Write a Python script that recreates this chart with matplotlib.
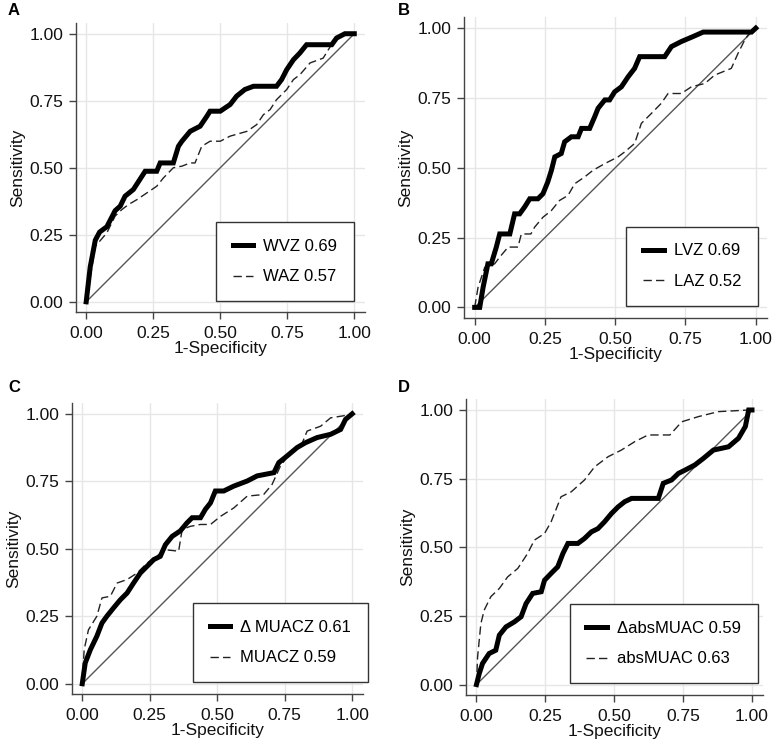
import matplotlib
matplotlib.use("Agg")
import matplotlib.pyplot as plt
import numpy as np

plt.rcParams['font.family'] = ['Liberation Sans', 'DejaVu Sans']

# ---- Data ----
# Panel A
wvz_x = [0, 0.015, 0.034, 0.05, 0.077, 0.108, 0.127, 0.145, 0.176, 0.20, 0.22, 0.263, 0.276, 0.325, 0.344, 0.357,
         0.388, 0.425, 0.45, 0.462, 0.5, 0.537, 0.561, 0.592, 0.624, 0.71, 0.729, 0.748, 0.773, 0.797, 0.822,
         0.916, 0.934, 0.965, 1.0]
wvz_y = [0, 0.13, 0.23, 0.26, 0.28, 0.34, 0.357, 0.394, 0.419, 0.456, 0.487, 0.487, 0.518, 0.518, 0.58, 0.599,
         0.636, 0.655, 0.692, 0.711, 0.711, 0.736, 0.767, 0.792, 0.804, 0.804, 0.829, 0.866, 0.903, 0.928, 0.959,
         0.959, 0.984, 1.0, 1.0]
waz_x = [0, 0.034, 0.077, 0.108, 0.133, 0.158, 0.189, 0.226, 0.263, 0.288, 0.325, 0.357, 0.388, 0.406, 0.431,
         0.462, 0.5, 0.537, 0.6, 0.636, 0.661, 0.686, 0.71, 0.748, 0.773, 0.797, 0.835, 0.884, 0.903, 0.922, 0.97, 1.0]
waz_y = [0, 0.207, 0.257, 0.32, 0.344, 0.363, 0.381, 0.406, 0.431, 0.462, 0.5, 0.506, 0.518, 0.518, 0.58,
         0.599, 0.599, 0.618, 0.636, 0.661, 0.698, 0.717, 0.754, 0.792, 0.829, 0.847, 0.891, 0.909, 0.94, 0.97, 1.0, 1.0]

# Panel B
lvz_x = [0, 0.018, 0.03, 0.047, 0.059, 0.077, 0.089, 0.125, 0.142, 0.16, 0.178, 0.196, 0.225, 0.243, 0.26, 0.273,
         0.285, 0.308, 0.32, 0.344, 0.368, 0.38, 0.409, 0.427, 0.439, 0.463, 0.48, 0.498, 0.522, 0.546, 0.569,
         0.587, 0.676, 0.7, 0.735, 0.777, 0.813, 0.985, 1.0]
lvz_y = [0, 0, 0.072, 0.156, 0.156, 0.216, 0.263, 0.263, 0.335, 0.335, 0.36, 0.389, 0.389, 0.407, 0.449, 0.491,
         0.539, 0.551, 0.593, 0.611, 0.611, 0.641, 0.641, 0.683, 0.713, 0.743, 0.743, 0.772, 0.79, 0.826, 0.856,
         0.898, 0.898, 0.934, 0.952, 0.97, 0.986, 0.986, 1.0]
laz_x = [0, 0.012, 0.036, 0.071, 0.089, 0.119, 0.154, 0.166, 0.2, 0.213, 0.243, 0.273, 0.302, 0.332, 0.356, 0.391,
         0.421, 0.463, 0.51, 0.534, 0.569, 0.593, 0.629, 0.664, 0.688, 0.735, 0.771, 0.819, 0.854, 0.913, 0.937,
         0.961, 0.985, 1.0]
laz_y = [0, 0.072, 0.144, 0.156, 0.18, 0.216, 0.216, 0.263, 0.263, 0.287, 0.323, 0.347, 0.383, 0.401, 0.443, 0.467,
         0.491, 0.515, 0.539, 0.557, 0.587, 0.659, 0.695, 0.731, 0.766, 0.766, 0.79, 0.802, 0.832, 0.856, 0.91,
         0.958, 0.994, 1.0]

# Panel C
dmuacz_x = [0, 0.011, 0.03, 0.054, 0.073, 0.091, 0.116, 0.141, 0.166, 0.19, 0.215, 0.24, 0.265, 0.289, 0.308,
            0.333, 0.363, 0.388, 0.407, 0.438, 0.456, 0.475, 0.493, 0.524, 0.561, 0.611, 0.648, 0.71, 0.728, 0.759,
            0.796, 0.827, 0.87, 0.92, 0.957, 0.975, 1.0]
dmuacz_y = [0, 0.077, 0.126, 0.176, 0.225, 0.25, 0.281, 0.311, 0.336, 0.373, 0.41, 0.435, 0.46, 0.472, 0.515,
            0.546, 0.566, 0.596, 0.615, 0.615, 0.646, 0.67, 0.714, 0.714, 0.732, 0.751, 0.77, 0.782, 0.819, 0.844,
            0.875, 0.893, 0.912, 0.924, 0.942, 0.979, 1.0]
muacz_x = [0, 0.007, 0.023, 0.054, 0.073, 0.104, 0.129, 0.166, 0.203, 0.24, 0.277, 0.302, 0.357, 0.37, 0.4, 0.438,
           0.475, 0.512, 0.561, 0.611, 0.672, 0.703, 0.734, 0.771, 0.808, 0.833, 0.883, 0.92, 0.995, 1.0]
muacz_y = [0, 0.126, 0.2, 0.25, 0.318, 0.324, 0.373, 0.386, 0.41, 0.447, 0.472, 0.497, 0.491, 0.571, 0.583, 0.59,
           0.59, 0.62, 0.651, 0.695, 0.701, 0.738, 0.806, 0.856, 0.875, 0.936, 0.954, 0.985, 0.997, 1.0]

# Panel D
dabs_x = [0, 0.01, 0.022, 0.046, 0.07, 0.083, 0.107, 0.137, 0.162, 0.18, 0.204, 0.235, 0.247, 0.271, 0.295, 0.314,
          0.332, 0.368, 0.392, 0.417, 0.441, 0.465, 0.49, 0.514, 0.538, 0.563, 0.66, 0.678, 0.708, 0.733, 0.757,
          0.793, 0.824, 0.86, 0.915, 0.951, 0.976, 0.988, 1.0]
dabs_y = [0, 0.04, 0.077, 0.113, 0.125, 0.18, 0.21, 0.228, 0.247, 0.295, 0.332, 0.338, 0.38, 0.405, 0.429, 0.478,
          0.514, 0.514, 0.532, 0.556, 0.568, 0.593, 0.623, 0.647, 0.666, 0.678, 0.678, 0.733, 0.745, 0.769, 0.781,
          0.8, 0.824, 0.854, 0.866, 0.897, 0.94, 1.0, 1.0]
abs_x = [0, 0.004, 0.016, 0.028, 0.052, 0.083, 0.113, 0.15, 0.186, 0.21, 0.247, 0.271, 0.307, 0.344, 0.392, 0.429,
         0.478, 0.526, 0.575, 0.623, 0.702, 0.745, 0.806, 0.878, 0.99, 1.0]
abs_y = [0, 0.1, 0.222, 0.271, 0.32, 0.35, 0.392, 0.423, 0.478, 0.526, 0.55, 0.593, 0.684, 0.702, 0.745, 0.793,
         0.83, 0.854, 0.885, 0.909, 0.909, 0.957, 0.976, 0.994, 1.0, 1.0]

panel_letters = ['A', 'B', 'C', 'D']
solid_labels = ['WVZ 0.69', 'LVZ 0.69', '\u0394 MUACZ 0.61', '\u0394absMUAC 0.59']
dash_labels = ['WAZ 0.57', 'LAZ 0.52', 'MUACZ 0.59', 'absMUAC 0.63']
ticks = [0.0, 0.25, 0.5, 0.75, 1.0]
tick_labels = ['0.00', '0.25', '0.50', '0.75', '1.00']

solid_series = [(wvz_x, wvz_y), (lvz_x, lvz_y), (dmuacz_x, dmuacz_y), (dabs_x, dabs_y)]
dash_series = [(waz_x, waz_y), (laz_x, laz_y), (muacz_x, muacz_y), (abs_x, abs_y)]

W, H = 775, 750
fig = plt.figure(figsize=(W / 100, H / 100), dpi=100)

# axes boxes in pixels: left, top, right, bottom
boxes = [(76, 23, 365, 312), (464, 17, 767, 318), (72, 403, 363, 694), (466, 399, 763, 695)]
legend_anchor = [(0.962, 0.038), (0.970, 0.040), (1.017, 0.041), (0.983, 0.040)]
letter_pos = [(8, 15), (398, 15), (8, 392), (398, 392)]

spine_col = '#444444'
for i in range(4):
    l, t, r, b = boxes[i]
    ax = fig.add_axes([l / W, 1 - b / H, (r - l) / W, (b - t) / H])
    ax.set_xlim(-0.038, 1.04)
    ax.set_ylim(-0.038, 1.04)
    ax.set_xticks(ticks)
    ax.set_yticks(ticks)
    ax.set_xticklabels(tick_labels)
    ax.set_yticklabels(tick_labels)
    ax.grid(True, color='#e6e6e6', linewidth=1.0)
    ax.set_axisbelow(True)
    for s in ['top', 'right']:
        ax.spines[s].set_visible(False)
    for s in ['left', 'bottom']:
        ax.spines[s].set_color(spine_col)
        ax.spines[s].set_linewidth(1.0)
    ax.tick_params(axis='both', direction='out', length=5, width=1, color=spine_col,
                   labelsize=12.5, pad=4, labelcolor='#111111')
    ax.tick_params(axis='x', pad=5)
    ax.set_xlabel('1-Specificity', fontsize=12.5, labelpad=0, color='#111111')
    ax.set_ylabel('Sensitivity', fontsize=12.5, labelpad=3, color='#111111')

    ax.plot([0, 1], [0, 1], color='#555555', linewidth=1.0, zorder=2)
    sx, sy = solid_series[i]
    dx, dy = dash_series[i]
    ax.plot(dx, dy, color='#222222', linewidth=1.0, linestyle=(0, (6, 3)), zorder=3, label=dash_labels[i])
    ax.plot(sx, sy, color='black', linewidth=3.6, solid_joinstyle='miter', zorder=4, label=solid_labels[i])

    handles, labels = ax.get_legend_handles_labels()
    leg = ax.legend(handles[::-1], labels[::-1], loc='lower right', bbox_to_anchor=legend_anchor[i],
                    borderaxespad=0, frameon=True, fancybox=False, fontsize=12,
                    handlelength=1.25, handletextpad=0.6, labelspacing=0.95, borderpad=1.0,
                    edgecolor='#333333')
    leg.get_frame().set_linewidth(1.0)
    leg.get_frame().set_alpha(1)

    fig.text(letter_pos[i][0] / W, 1 - letter_pos[i][1] / H, panel_letters[i], fontsize=12,
             fontweight='bold', ha='left', va='baseline')

fig.savefig('out.png', dpi=100)
